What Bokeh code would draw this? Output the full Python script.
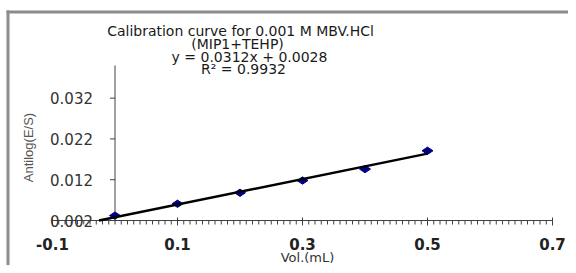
import numpy as np
from bokeh.plotting import figure
from bokeh.models import Range1d
from bokeh.embed import file_html
from bokeh.resources import INLINE
from bokeh.core.properties import value

# ---- data ----
vol_ml = [0.0, 0.1, 0.2, 0.3, 0.4, 0.5]
antilog_es = [0.0032, 0.0061, 0.0088, 0.0118, 0.0146, 0.0191]
slope = 0.0312
intercept = 0.0028
r_squared = 0.9932

x_ticks = [-0.1, 0.1, 0.3, 0.5, 0.7]
x_tick_labels = ["-0.1", "0.1", "0.3", "0.5", "0.7"]
y_ticks = [0.002, 0.012, 0.022, 0.032]
y_tick_labels = ["0.002", "0.012", "0.022", "0.032"]
x_min, x_max = -0.1, 0.7
y_min, y_max = 0.002, 0.04
minor_step = 0.01
y_axis_cross_x = 0.0
title_lines = ["Calibration curve for 0.001 M MBV.HCl", "(MIP1+TEHP)"]
eq_text = "y = %.4fx + %.4f" % (slope, intercept)
r2_text = "R\u00b2 = %.4f" % r_squared
x_title = "Vol.(mL)"
y_title = "Antilog(E/S)"

# ---- layout (picture pixels of the axis box) ----
W, H = 568, 265
ORG = 0                      # picture offset of the canvas
AX_L, AX_R = 52, 552         # picture x of x_min and x_max
AX_B, AX_T = 220, 65         # picture y of y_min and y_max
PX_X = (x_max - x_min) / (AX_R - AX_L)
PX_Y = (y_max - y_min) / (AX_B - AX_T)


def X(px):
    return x_min + (px - AX_L) * PX_X


def Y(py):
    return y_min + (AX_B - py) * PX_Y


p = figure(width=W, height=H,
           x_range=Range1d(X(ORG), X(ORG + W)), y_range=Range1d(Y(ORG + H), Y(ORG)),
           x_axis_location=None, y_axis_location=None,
           output_backend="svg", toolbar_location=None, min_border=0)
p.outline_line_color = None
p.grid.visible = False
p.background_fill_color = "white"
p.border_fill_color = "white"

AXC = "#404040"
# chart-area border (top and left)
p.segment(x0=[X(6), X(7.5)], y0=[Y(11.5), Y(10)], x1=[X(ORG + W), X(7.5)], y1=[Y(11.5), Y(ORG + H)],
          line_color="#8c8c8c", line_width=3)

# x axis
p.segment(x0=[x_min], y0=[y_min], x1=[x_max], y1=[y_min], line_color=AXC, line_width=1)
minor = [round(v, 2) for v in np.arange(x_min, x_max + 1e-9, minor_step)]
p.segment(x0=minor, y0=[y_min] * len(minor), x1=minor, y1=[y_min - 4 * PX_Y] * len(minor),
          line_color=AXC, line_width=1)
p.segment(x0=x_ticks, y0=[y_min + 3 * PX_Y] * len(x_ticks), x1=x_ticks,
          y1=[y_min - 5 * PX_Y] * len(x_ticks), line_color=AXC, line_width=1)
p.text(x=x_ticks, y=[y_min - 23 * PX_Y] * len(x_ticks), text=x_tick_labels,
       text_align="center", text_baseline="middle", text_font=value("DejaVu Sans"),
       text_font_style="bold", text_font_size="15px", text_color="#222222")
p.text(x=[X(307)], y=[Y(257)], text=[x_title], text_align="center", text_baseline="middle",
       text_font=value("DejaVu Sans"), text_font_size="13px", text_color="#333333")

# y axis crossing at x = 0
p.segment(x0=[y_axis_cross_x], y0=[y_min], x1=[y_axis_cross_x], y1=[y_max],
          line_color=AXC, line_width=1)
p.segment(x0=[y_axis_cross_x] * len(y_ticks), y0=y_ticks,
          x1=[y_axis_cross_x - 5 * PX_X] * len(y_ticks), y1=y_ticks, line_color=AXC, line_width=1)
p.text(x=[y_axis_cross_x - 22 * PX_X] * len(y_ticks), y=y_ticks, text=y_tick_labels,
       text_align="right", text_baseline="middle", text_font=value("DejaVu Sans"),
       text_font_size="15px", text_color="#333333")
p.text(x=[X(28)], y=[Y(147)], text=[y_title], angle=np.pi / 2, text_align="center",
       text_baseline="middle", text_font=value("Liberation Sans"), text_font_size="13px",
       text_color="#555555")

# data and trendline
p.scatter(vol_ml, antilog_es, marker="diamond", size=11, angle=np.pi / 2,
          fill_color="#000088", line_color="#000088")
fit_x = [(y_min - intercept) / slope, max(vol_ml)]
fit_y = [slope * v + intercept for v in fit_x]
p.line(fit_x, fit_y, line_color="black", line_width=2.5)

# title and equation
p.text(x=[X(240), X(237)], y=[Y(30), Y(43)], text=title_lines, text_align="center",
       text_baseline="middle", text_font=value("DejaVu Sans"), text_font_size="14px",
       text_color="#1a1a1a")
p.text(x=[X(249), X(243)], y=[Y(56), Y(68)], text=[eq_text, r2_text], text_align="center",
       text_baseline="middle", text_font=value("DejaVu Sans"), text_font_size="14px",
       text_color="#1a1a1a")

open("out.html", "w").write(file_html(p, INLINE))
